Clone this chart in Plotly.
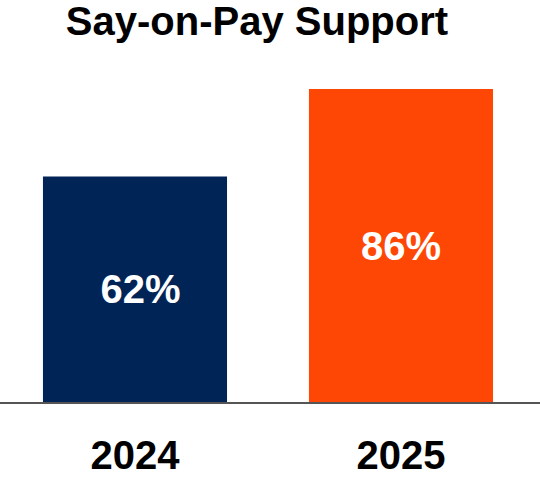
import plotly.graph_objects as go

categories = ["2024", "2025"]
values = [62, 86]
labels = ["62%", "86%"]
colors = ["#002456", "#FF4705"]

# small left pad on the first label, as in the reference
bar_text = ["\u00a0" + labels[0], labels[1]]

fig = go.Figure(
    go.Bar(
        x=[0, 1],
        y=values,
        text=bar_text,
        textposition="inside",
        insidetextanchor="middle",
        textangle=0,
        textfont=dict(family="Liberation Sans", size=40, color="white", weight="bold"),
        marker=dict(color=colors, line=dict(width=0)),
        width=0.692,
        hoverinfo="skip",
    )
)

fig.update_layout(
    width=540,
    height=478,
    margin=dict(l=0, r=0, t=60, b=76, autoexpand=False),
    paper_bgcolor="white",
    plot_bgcolor="white",
    showlegend=False,
    uniformtext=dict(minsize=40, mode="show"),
    title=dict(
        text="<b>Say-on-Pay Support</b>",
        font=dict(family="Liberation Sans", size=40, color="black"),
        x=257 / 540,
        xanchor="center",
        xref="paper",
        yref="container",
        y=1 - 21 / 478,
        yanchor="middle",
    ),
    xaxis=dict(
        tickmode="array",
        tickvals=[0, 1],
        ticktext=["<b>%s</b>" % c for c in categories],
        tickfont=dict(family="Liberation Sans", size=40, color="black"),
        range=[-0.5075, 1.5226],
        showgrid=False,
        zeroline=False,
        showline=True,
        linecolor="#555555",
        linewidth=2,
        ticks="",
        automargin=False,
        ticklabelstandoff=17,
    ),
    yaxis=dict(
        range=[0, 94],
        visible=False,
        showgrid=False,
        zeroline=False,
        automargin=False,
    ),
)

fig.write_html(
    "out.html",
    config={"displayModeBar": False, "staticPlot": True},
    post_script="document.body.style.margin='0';document.body.style.overflow='hidden';",
)
